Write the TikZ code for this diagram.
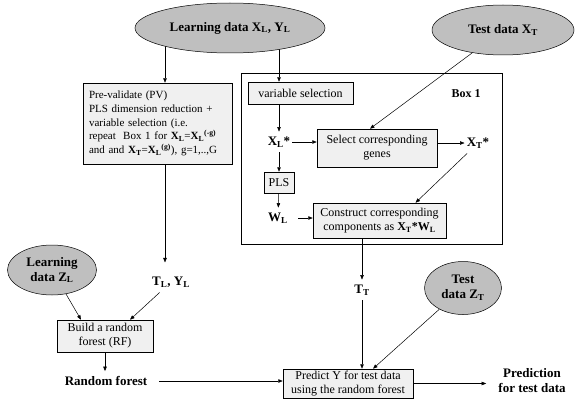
\documentclass[tikz,border=0pt]{standalone}
\usepackage{fontspec}
\setmainfont{Liberation Serif}
\usetikzlibrary{positioning,arrows.meta,calc,shapes.geometric,backgrounds}
\newcommand{\bsub}[2]{\textbf{#1}\textsubscript{\textbf{#2}}}

\begin{document}
\begin{tikzpicture}[x=1pt,y=-1pt,>={Triangle[length=4.5pt,width=3.5pt]}, line width=0.5pt,
  data/.style={ellipse,draw,fill=gray!50,inner sep=0pt,align=center,font=\fontsize{13}{15}\selectfont\bfseries},
  proc/.style={draw,fill=gray!12,inner sep=1pt,align=center,font=\fontsize{12}{14}\selectfont},
  lbl/.style={inner xsep=2pt,inner ysep=5pt,align=center,font=\fontsize{13}{15}\selectfont\bfseries}]
  \useasboundingbox (0,0) rectangle (575,412);
  % Box 1
  \node[draw,minimum width=261pt,minimum height=171pt,line width=0.7pt](box1) at (371.5,158.5){};
  \node[font=\fontsize{12}{14}\selectfont\bfseries](boxlbl) at (466,94){Box 1};
  % inputs
  \node[data,minimum width=190pt,minimum height=50pt](lxy) at (230,28){Learning data \bsub{X}{L}, \bsub{Y}{L}};
  \node[data,minimum width=142pt,minimum height=50pt](txt) at (503,30){Test data \bsub{X}{T}};
  \node[data,minimum width=89pt,minimum height=50pt](lzl) at (52,270){Learning\\data \bsub{Z}{L}};
  \node[data,minimum width=77pt,minimum height=53pt](tzt) at (463,288){Test\\data \bsub{Z}{T}};
  % pre-validation
  \node[proc,minimum height=81pt,align=left,text width=137pt,inner xsep=6pt,
    font=\fontsize{11}{13.8}\selectfont](pv) at (157.5,123.5){Pre-validate (PV)\\
    PLS dimension reduction +\\
    variable selection (i.e.\\
    repeat~ Box 1 for \bsub{X}{L}=\bsub{X}{L}\textsuperscript{\textbf{(-g)}}\\
    and and \bsub{X}{T}=\bsub{X}{L}\textsuperscript{\textbf{(g)}}), g=1,..,G};
  \coordinate(pvx) at ($(pv.north)+(7.5,0)$);
  \coordinate(pvo) at ($(pv.south)+(7.5,0)$);
  % inside box 1
  \node[proc,minimum width=105pt,minimum height=22pt](vs) at (300.5,93){variable selection};
  \node[lbl](xls) at (279,142){\bsub{X}{L}\textbf{*}};
  \node[proc,minimum width=120pt,minimum height=38pt](sel) at (377,148){Select corresponding\\genes};
  \node[lbl](xts) at (478,143){\bsub{X}{T}\textbf{*}};
  \node[proc,minimum width=30pt,minimum height=21pt](pls) at (279,182.5){PLS};
  \node[lbl,inner xsep=10pt](wl) at (278,218){\bsub{W}{L}};
  \node[proc,minimum width=133pt,minimum height=35pt](con) at (379.5,220.5){Construct corresponding\\components as \bsub{X}{T}\textbf{*}\bsub{W}{L}};
  % random forest
  \node[lbl](tt) at (362,290){\bsub{T}{T}};
  \node[lbl](tly) at (171,282){\bsub{T}{L}\textbf{,} \bsub{Y}{L}};
  \node[proc,minimum width=96pt,minimum height=32pt](bld) at (105,336){Build a random\\forest (RF)};
  \node[lbl,inner xsep=12pt](rf) at (106,381){Random forest};
  \node[proc,minimum width=130pt,minimum height=29pt](pred) at (348,383.5){Predict Y for test data\\using the random forest};
  \node[lbl,inner xsep=12pt](prd) at (532,381){Prediction\\for test data};
  % connectors
  \begin{scope}[on background layer]
    \draw[->](pvx |- lxy.center) -- (pvx);
    \draw[->](xls |- lxy.center) -- (xls |- vs.north);
  \end{scope}
  \draw[->](xls |- vs.south) -- (xls);
  \draw[->](xls) -- (pls);
  \draw[->](pls) -- (wl);
  \draw[->](xls) -- (xls -| sel.west);
  \draw[->](sel.east |- xts) -- (xts);
  \draw[->](txt) -- ($(sel.north)+(-7,0)$);
  \draw[->](xts) -- ($(con.north)+(36,0)$);
  \draw[->](wl) -- (wl -| con.west);
  \draw[->](tt |- con.south) -- (tt);
  \draw[->](tt) -- (tt |- pred.north);
  \draw[->](tzt) -- ($(pred.north)+(25,0)$);
  \draw[->](pvo) -- ($(pvo |- tly.north)+(0,-9)$);
  \draw[->](lzl) -- ($(bld.north)+(-24,0)$);
  \draw[->](tly) -- ($(bld.north)+(25,0)$);
  \draw[->](bld.south) -- (bld.south |- rf.north);
  \draw[->](rf) -- (rf.east -| pred.west);
  \draw[->](pred) -- (pred.east -| prd.west);
\end{tikzpicture}
\end{document}
